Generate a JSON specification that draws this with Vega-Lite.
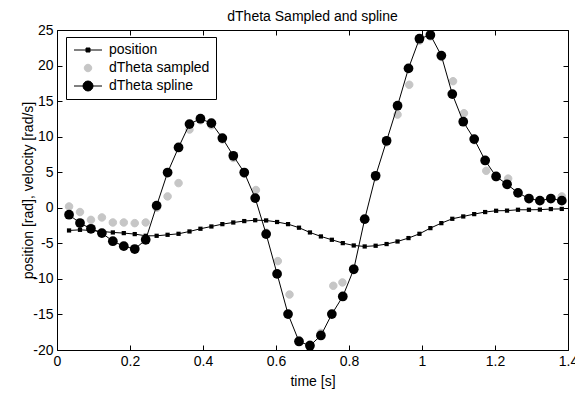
{
  "$schema": "https://vega.github.io/schema/vega-lite/v6.json",
  "width": 511,
  "height": 320,
  "autosize": "none",
  "padding": {"left": 57, "top": 30, "right": 7, "bottom": 46},
  "background": "white",
  "config": {
    "view": {"stroke": "#000", "strokeWidth": 1},
    "font": "Liberation Sans",
    "axis": {"domain": false, "grid": false, "tickColor": "#000", "tickSize": -5, "labelColor": "#000", "labelFont": "Liberation Sans", "labelFontSize": 14, "titleFont": "Liberation Sans", "titleFontSize": 14, "titleFontWeight": "normal", "titleColor": "#000", "labelFlush": false, "labelOverlap": false, "labelBound": false}
  },
  "title": {"text": "dTheta Sampled and spline", "font": "Liberation Sans", "fontSize": 14, "fontWeight": "normal", "color": "#000", "anchor": "middle", "frame": "group", "offset": 2, "dy": 3},
  "data": {"values": [
    {"t":0.033,"v":-3.19,"s":"position"},{"t":0.063,"v":-3.1,"s":"position"},{"t":0.093,"v":-3.19,"s":"position"},{"t":0.123,"v":-3.33,"s":"position"},{"t":0.153,"v":-3.47,"s":"position"},{"t":0.183,"v":-3.56,"s":"position"},{"t":0.213,"v":-3.7,"s":"position"},{"t":0.243,"v":-3.94,"s":"position"},{"t":0.273,"v":-3.94,"s":"position"},{"t":0.303,"v":-3.8,"s":"position"},{"t":0.333,"v":-3.66,"s":"position"},{"t":0.363,"v":-3.33,"s":"position"},{"t":0.393,"v":-2.95,"s":"position"},{"t":0.423,"v":-2.63,"s":"position"},{"t":0.453,"v":-2.3,"s":"position"},{"t":0.483,"v":-2.07,"s":"position"},{"t":0.513,"v":-1.87,"s":"position"},{"t":0.543,"v":-1.75,"s":"position"},{"t":0.573,"v":-1.78,"s":"position"},{"t":0.603,"v":-2.0,"s":"position"},{"t":0.633,"v":-2.3,"s":"position"},{"t":0.663,"v":-2.8,"s":"position"},{"t":0.693,"v":-3.47,"s":"position"},{"t":0.723,"v":-4.03,"s":"position"},{"t":0.753,"v":-4.5,"s":"position"},{"t":0.783,"v":-4.97,"s":"position"},{"t":0.813,"v":-5.3,"s":"position"},{"t":0.843,"v":-5.44,"s":"position"},{"t":0.873,"v":-5.34,"s":"position"},{"t":0.903,"v":-5.1,"s":"position"},{"t":0.933,"v":-4.74,"s":"position"},{"t":0.963,"v":-4.26,"s":"position"},{"t":0.993,"v":-3.66,"s":"position"},{"t":1.023,"v":-2.86,"s":"position"},{"t":1.053,"v":-2.16,"s":"position"},{"t":1.083,"v":-1.55,"s":"position"},{"t":1.113,"v":-1.22,"s":"position"},{"t":1.143,"v":-0.89,"s":"position"},{"t":1.173,"v":-0.6,"s":"position"},{"t":1.203,"v":-0.42,"s":"position"},{"t":1.233,"v":-0.4,"s":"position"},{"t":1.263,"v":-0.28,"s":"position"},{"t":1.293,"v":-0.28,"s":"position"},{"t":1.323,"v":-0.26,"s":"position"},{"t":1.353,"v":-0.18,"s":"position"},{"t":1.383,"v":-0.16,"s":"position"},
    {"t":0.033,"v":0.18,"s":"dTheta sampled"},{"t":0.063,"v":-0.6,"s":"dTheta sampled"},{"t":0.093,"v":-1.7,"s":"dTheta sampled"},{"t":0.123,"v":-1.36,"s":"dTheta sampled"},{"t":0.153,"v":-2.07,"s":"dTheta sampled"},{"t":0.183,"v":-2.07,"s":"dTheta sampled"},{"t":0.213,"v":-2.16,"s":"dTheta sampled"},{"t":0.243,"v":-2.07,"s":"dTheta sampled"},{"t":0.273,"v":0.0,"s":"dTheta sampled"},{"t":0.303,"v":1.6,"s":"dTheta sampled"},{"t":0.333,"v":3.47,"s":"dTheta sampled"},{"t":0.363,"v":11.0,"s":"dTheta sampled"},{"t":0.393,"v":12.3,"s":"dTheta sampled"},{"t":0.423,"v":11.6,"s":"dTheta sampled"},{"t":0.453,"v":9.6,"s":"dTheta sampled"},{"t":0.483,"v":7.0,"s":"dTheta sampled"},{"t":0.513,"v":4.8,"s":"dTheta sampled"},{"t":0.545,"v":2.5,"s":"dTheta sampled"},{"t":0.573,"v":-3.5,"s":"dTheta sampled"},{"t":0.605,"v":-7.5,"s":"dTheta sampled"},{"t":0.637,"v":-12.2,"s":"dTheta sampled"},{"t":0.663,"v":-18.6,"s":"dTheta sampled"},{"t":0.693,"v":-19.2,"s":"dTheta sampled"},{"t":0.723,"v":-17.6,"s":"dTheta sampled"},{"t":0.757,"v":-10.97,"s":"dTheta sampled"},{"t":0.782,"v":-10.5,"s":"dTheta sampled"},{"t":0.813,"v":-8.5,"s":"dTheta sampled"},{"t":0.843,"v":-1.7,"s":"dTheta sampled"},{"t":0.873,"v":4.3,"s":"dTheta sampled"},{"t":0.903,"v":9.2,"s":"dTheta sampled"},{"t":0.933,"v":13.1,"s":"dTheta sampled"},{"t":0.965,"v":17.3,"s":"dTheta sampled"},{"t":0.993,"v":23.5,"s":"dTheta sampled"},{"t":1.023,"v":24.1,"s":"dTheta sampled"},{"t":1.053,"v":21.2,"s":"dTheta sampled"},{"t":1.085,"v":17.8,"s":"dTheta sampled"},{"t":1.115,"v":13.3,"s":"dTheta sampled"},{"t":1.143,"v":9.5,"s":"dTheta sampled"},{"t":1.176,"v":5.2,"s":"dTheta sampled"},{"t":1.203,"v":4.3,"s":"dTheta sampled"},{"t":1.236,"v":4.1,"s":"dTheta sampled"},{"t":1.263,"v":2.1,"s":"dTheta sampled"},{"t":1.293,"v":1.3,"s":"dTheta sampled"},{"t":1.323,"v":1.0,"s":"dTheta sampled"},{"t":1.353,"v":1.3,"s":"dTheta sampled"},{"t":1.383,"v":1.6,"s":"dTheta sampled"},
    {"t":0.033,"v":-0.98,"s":"dTheta spline"},{"t":0.063,"v":-2.15,"s":"dTheta spline"},{"t":0.093,"v":-2.95,"s":"dTheta spline"},{"t":0.123,"v":-3.56,"s":"dTheta spline"},{"t":0.153,"v":-4.7,"s":"dTheta spline"},{"t":0.183,"v":-5.4,"s":"dTheta spline"},{"t":0.213,"v":-5.8,"s":"dTheta spline"},{"t":0.243,"v":-4.5,"s":"dTheta spline"},{"t":0.273,"v":0.3,"s":"dTheta spline"},{"t":0.303,"v":4.96,"s":"dTheta spline"},{"t":0.333,"v":8.48,"s":"dTheta spline"},{"t":0.363,"v":11.77,"s":"dTheta spline"},{"t":0.393,"v":12.52,"s":"dTheta spline"},{"t":0.423,"v":11.9,"s":"dTheta spline"},{"t":0.453,"v":9.8,"s":"dTheta spline"},{"t":0.483,"v":7.31,"s":"dTheta spline"},{"t":0.513,"v":4.96,"s":"dTheta spline"},{"t":0.543,"v":1.36,"s":"dTheta spline"},{"t":0.573,"v":-3.7,"s":"dTheta spline"},{"t":0.603,"v":-9.3,"s":"dTheta spline"},{"t":0.633,"v":-14.95,"s":"dTheta spline"},{"t":0.663,"v":-18.8,"s":"dTheta spline"},{"t":0.693,"v":-19.4,"s":"dTheta spline"},{"t":0.723,"v":-17.96,"s":"dTheta spline"},{"t":0.753,"v":-14.95,"s":"dTheta spline"},{"t":0.783,"v":-12.47,"s":"dTheta spline"},{"t":0.813,"v":-8.65,"s":"dTheta spline"},{"t":0.843,"v":-1.6,"s":"dTheta spline"},{"t":0.873,"v":4.5,"s":"dTheta spline"},{"t":0.903,"v":9.42,"s":"dTheta spline"},{"t":0.933,"v":14.35,"s":"dTheta spline"},{"t":0.963,"v":19.6,"s":"dTheta spline"},{"t":0.993,"v":23.77,"s":"dTheta spline"},{"t":1.023,"v":24.3,"s":"dTheta spline"},{"t":1.053,"v":21.4,"s":"dTheta spline"},{"t":1.083,"v":15.99,"s":"dTheta spline"},{"t":1.113,"v":12.1,"s":"dTheta spline"},{"t":1.143,"v":9.66,"s":"dTheta spline"},{"t":1.173,"v":6.65,"s":"dTheta spline"},{"t":1.203,"v":4.4,"s":"dTheta spline"},{"t":1.233,"v":3.3,"s":"dTheta spline"},{"t":1.263,"v":2.1,"s":"dTheta spline"},{"t":1.293,"v":1.3,"s":"dTheta spline"},{"t":1.323,"v":1.0,"s":"dTheta spline"},{"t":1.353,"v":1.3,"s":"dTheta spline"},{"t":1.383,"v":1.0,"s":"dTheta spline"}
  ]},
  "encoding": {
    "x": {"field": "t", "type": "quantitative", "scale": {"domain": [0, 1.4], "nice": false, "zero": false}},
    "y": {"field": "v", "type": "quantitative", "scale": {"domain": [-20, 25], "nice": false, "zero": false}}
  },
  "layer": [
    {
      "transform": [{"filter": "datum.s == 'position'"}],
      "mark": {"type": "line", "color": "#000", "strokeWidth": 1},
      "encoding": {
        "x": {"field": "t", "type": "quantitative", "axis": {"orient": "bottom", "title": "time [s]", "values": [0, 0.2, 0.4, 0.6, 0.8, 1, 1.2, 1.4], "labelPadding": 9, "titlePadding": 6, "labelExpr": "'' + datum.value"}},
        "y": {"field": "v", "type": "quantitative", "axis": {"orient": "left", "title": "position [rad], velocity [rad/s]", "values": [-20, -15, -10, -5, 0, 5, 10, 15, 20, 25], "labelPadding": 9, "titlePadding": -3, "labelExpr": "'' + datum.value"}}
      }
    },
    {
      "transform": [{"filter": "datum.s == 'position'"}],
      "mark": {"type": "square", "color": "#000", "size": 18, "opacity": 1},
      "encoding": {
        "x": {"field": "t", "type": "quantitative", "axis": {"orient": "top", "title": null, "labels": false, "values": [0, 0.2, 0.4, 0.6, 0.8, 1, 1.2, 1.4]}},
        "y": {"field": "v", "type": "quantitative", "axis": {"orient": "right", "title": null, "labels": false, "values": [-20, -15, -10, -5, 0, 5, 10, 15, 20, 25]}}
      }
    },
    {
      "transform": [{"filter": "datum.s == 'dTheta sampled'"}],
      "mark": {"type": "point", "filled": true, "size": 100, "opacity": 1, "strokeWidth": 1, "strokeOpacity": 1, "fillOpacity": 1},
      "encoding": {
        "x": {"field": "t", "type": "quantitative", "axis": null},
        "y": {"field": "v", "type": "quantitative", "axis": null},
        "color": {
          "field": "s", "type": "nominal",
          "scale": {"domain": ["position", "dTheta sampled", "dTheta spline"], "range": ["#000", "#c6c6c6", "#000"]},
          "legend": {
            "orient": "none", "legendX": 9, "legendY": 7, "title": null,
            "strokeColor": "#000", "fillColor": "#fff", "padding": 6,
            "labelFont": "Liberation Sans", "labelFontSize": 14, "labelColor": "#000",
            "symbolSize": 100, "symbolStrokeWidth": 1, "symbolOpacity": 1, "symbolOffset": 9, "rowPadding": 4, "labelOffset": 14,
            "labelExpr": "datum.label + '\u00a0\u00a0\u00a0\u00a0\u00a0\u00a0'"
          }
        },
        "stroke": {
          "field": "s", "type": "nominal",
          "scale": {"domain": ["position", "dTheta sampled", "dTheta spline"], "range": ["#000", "#c6c6c6", "#000"]}
        },
        "shape": {
          "field": "s", "type": "nominal",
          "scale": {"domain": ["position", "dTheta sampled", "dTheta spline"], "range": ["M-2.8,0H2.8M-0.4,-0.4H0.4V0.4H-0.4Z", "M-0.75,0A0.75,0.75 0 1,0 0.75,0A0.75,0.75 0 1,0 -0.75,0Z", "M-2.8,0H2.8M-1,0A1,1 0 1,0 1,0A1,1 0 1,0 -1,0Z"]}
        }
      }
    },
    {
      "transform": [{"filter": "datum.s == 'dTheta spline'"}],
      "mark": {"type": "line", "color": "#000", "strokeWidth": 1},
      "encoding": {
        "x": {"field": "t", "type": "quantitative", "axis": null},
        "y": {"field": "v", "type": "quantitative", "axis": null}
      }
    },
    {
      "transform": [{"filter": "datum.s == 'dTheta spline'"}],
      "mark": {"type": "circle", "size": 95, "opacity": 1, "color": "#000"},
      "encoding": {
        "x": {"field": "t", "type": "quantitative", "axis": null},
        "y": {"field": "v", "type": "quantitative", "axis": null}
      }
    }
  ],
  "resolve": {"axis": {"x": "independent", "y": "independent"}}
}
